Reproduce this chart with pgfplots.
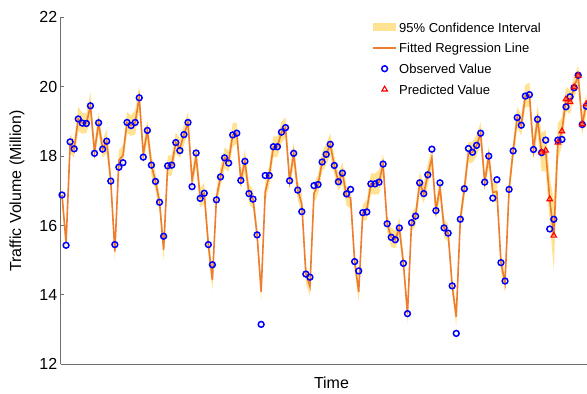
\documentclass[border=0pt]{standalone}
\usepackage{fontspec}
\setmainfont{Liberation Sans}
\usepackage{pgfplots}
\usepackage{pgfplotstable}
\pgfplotsset{compat=1.18}
\usepgfplotslibrary{fillbetween}
\definecolor{obsblue}{RGB}{0,0,255}
\definecolor{predred}{RGB}{255,0,0}
\definecolor{fitorange}{RGB}{237,125,49}
\definecolor{cifill}{RGB}{255,216,110}
\definecolor{axisgray}{RGB}{110,110,110}

\pgfplotstableread{
x obs fit w
1 16.88 16.88 0.25
2 15.43 15.50 0.25
3 18.41 18.35 0.28
4 18.21 18.21 0.25
5 19.07 19.07 0.35
6 18.95 18.95 0.30
7 18.94 18.94 0.28
8 19.45 19.45 0.40
9 18.08 18.12 0.25
10 18.96 18.96 0.30
11 18.20 18.20 0.25
12 18.43 18.43 0.35
13 17.28 17.28 0.25
14 15.45 15.25 0.25
15 17.68 17.88 0.30
16 17.81 18.02 0.28
17 18.97 18.97 0.30
18 18.88 18.88 0.30
19 18.97 18.97 0.35
20 19.68 19.68 0.35
21 17.97 18.05 0.25
22 18.74 18.74 0.30
23 17.74 17.74 0.30
24 17.27 17.27 0.25
25 16.67 16.67 0.25
26 15.69 15.30 0.30
27 17.72 17.72 0.28
28 17.74 17.74 0.30
29 18.39 18.39 0.30
30 18.16 18.22 0.28
31 18.62 18.62 0.30
32 18.97 18.97 0.30
33 17.12 17.30 0.28
34 18.09 18.00 0.30
35 16.78 16.80 0.28
36 16.93 16.93 0.30
37 15.45 15.45 0.28
38 14.87 14.43 0.30
39 16.74 16.80 0.25
40 17.40 17.40 0.28
41 17.95 17.95 0.30
42 17.80 17.85 0.30
43 18.61 18.61 0.35
44 18.66 18.66 0.30
45 17.30 17.30 0.25
46 17.85 17.85 0.35
47 16.92 16.92 0.28
48 16.76 16.76 0.28
49 15.73 15.73 0.25
50 13.15 14.09 0.28
51 17.44 16.97 0.28
52 17.44 17.44 0.30
53 18.27 18.27 0.30
54 18.27 18.27 0.30
55 18.69 18.69 0.30
56 18.82 18.82 0.30
57 17.29 17.29 0.25
58 18.08 18.08 0.32
59 17.02 17.02 0.28
60 16.40 16.62 0.28
61 14.60 14.60 0.25
62 14.51 14.24 0.28
63 17.15 16.93 0.28
64 17.18 17.18 0.28
65 17.83 17.83 0.30
66 18.05 18.05 0.30
67 18.34 18.34 0.32
68 17.73 17.73 0.28
69 17.26 17.26 0.25
70 17.51 17.51 0.32
71 16.91 16.85 0.28
72 17.04 16.80 0.30
73 14.96 14.96 0.25
74 14.69 14.09 0.28
75 16.37 16.37 0.25
76 16.39 16.45 0.28
77 17.20 17.20 0.30
78 17.20 17.20 0.30
79 17.25 17.25 0.35
80 17.77 17.77 0.30
81 16.05 16.05 0.25
82 15.66 15.66 0.28
83 15.59 15.59 0.25
84 15.93 15.93 0.30
85 14.91 14.91 0.25
86 13.46 13.46 0.28
87 16.08 16.08 0.25
88 16.27 16.27 0.28
89 17.23 17.23 0.30
90 16.92 16.92 0.28
91 17.46 17.46 0.32
92 18.20 17.95 0.30
93 16.43 16.43 0.25
94 17.23 17.10 0.30
95 15.93 15.93 0.28
96 15.78 15.78 0.25
97 14.26 14.26 0.25
98 12.89 13.37 0.28
99 16.18 16.18 0.25
100 17.06 17.06 0.28
101 18.22 18.10 0.30
102 18.11 18.11 0.30
103 18.31 18.31 0.30
104 18.66 18.66 0.32
105 17.25 17.25 0.25
106 18.00 18.00 0.30
107 16.79 16.95 0.28
108 17.32 16.98 0.30
109 14.93 14.93 0.25
110 14.40 14.35 0.28
111 17.04 17.04 0.28
112 18.15 18.15 0.30
113 19.11 19.11 0.30
114 18.89 18.89 0.30
115 19.73 19.73 0.32
116 19.77 19.77 0.35
117 18.19 18.19 0.30
118 19.06 19.06 0.40
119 18.10 18.11 0.55
120 18.46 18.16 0.60
121 15.90 16.76 0.65
122 16.18 15.71 1.00
123 18.46 18.39 0.55
124 18.48 18.72 0.40
125 19.42 19.64 0.35
126 19.71 19.56 0.35
127 19.97 19.99 0.30
128 20.33 20.32 0.30
129 18.91 18.92 0.30
130 19.44 19.50 0.30
}\datatab

\pgfplotstableread{
x pred
119 18.11
120 18.16
121 16.76
122 15.71
123 18.39
124 18.72
125 19.64
126 19.56
127 19.99
128 20.32
129 18.92
130 19.50
}\predtab

\begin{document}
\begin{tikzpicture}
\begin{axis}[
  at={(0pt,0pt)}, anchor=south west,
  scale only axis, width=526.3pt, height=347pt,
  xmin=0.68, xmax=130.17, ymin=12, ymax=22,
  axis x line=bottom, axis y line=left,
  axis line style={-, draw=axisgray, line width=0.8pt},
  xtick=\empty,
  ytick={12,14,16,18,20,22},
  tick style={draw=axisgray, line width=0.8pt},
  tick align=inside, major tick length=3.7pt,
  /pgf/number format/assume math mode=true,
  yticklabel style={font=\fontsize{16}{19}\selectfont, text=black},
  ylabel={Traffic Volume (Million)},
  ylabel style={at={(axis description cs:-0.083,0.5)}, anchor=center, font=\fontsize{16}{19}\selectfont},
  xlabel={Time},
  xlabel style={at={(axis description cs:0.5145,-0.054)}, anchor=center, font=\fontsize{16}{19}\selectfont},
  legend style={at={(0.5925,1.001)}, anchor=north west, draw=none, fill=none,
    inner sep=0pt, outer sep=0pt, row sep=0pt,
    font=\fontsize{13}{15.6}\selectfont,
    nodes={inner sep=0pt, minimum height=20.7pt, text height=9.4pt, text depth=0pt}},
  legend cell align=left,
  /tikz/every odd column/.append style={column sep=2.6pt},
]
\addplot[name path=hi, draw=none, forget plot] table[x=x, y expr=\thisrow{fit}+\thisrow{w}] {\datatab};
\addplot[name path=lo, draw=none, forget plot] table[x=x, y expr=\thisrow{fit}-\thisrow{w}] {\datatab};
\addplot[fill=cifill, fill opacity=0.75, draw=none,
  legend image code/.code={\fill[cifill, fill opacity=0.75] (0pt,-4.2pt) rectangle (22.5pt,4.2pt);}]
  fill between[of=hi and lo];
\addlegendentry{95\% Confidence Interval}
\addplot[fitorange, line width=1.6pt, no marks,
  legend image code/.code={\draw[fitorange, line width=1.6pt] (0pt,0pt) -- (22.5pt,0pt);}]
  table[x=x, y=fit] {\datatab};
\addlegendentry{Fitted Regression Line}
\addplot[only marks, mark=o, mark size=2.9pt, mark options={draw=obsblue, line width=1.5pt},
  legend image code/.code={\draw[draw=obsblue, line width=1.5pt, mark=o, mark size=2.9pt] plot coordinates {(11.3pt,0pt)};}]
  table[x=x, y=obs] {\datatab};
\addlegendentry{Observed Value}
\addplot[only marks, mark=triangle, mark size=3.2pt, mark options={draw=predred, line width=1.1pt},
  legend image code/.code={\draw[draw=predred, line width=1.1pt, mark=triangle, mark size=3.2pt] plot coordinates {(11.3pt,0pt)};}]
  table[x=x, y=pred] {\predtab};
\addlegendentry{Predicted Value}
\end{axis}
\pgfresetboundingbox
\path[use as bounding box] (-60.7pt,-29.7pt) rectangle (526.3pt,364.3pt);
\end{tikzpicture}
\end{document}
